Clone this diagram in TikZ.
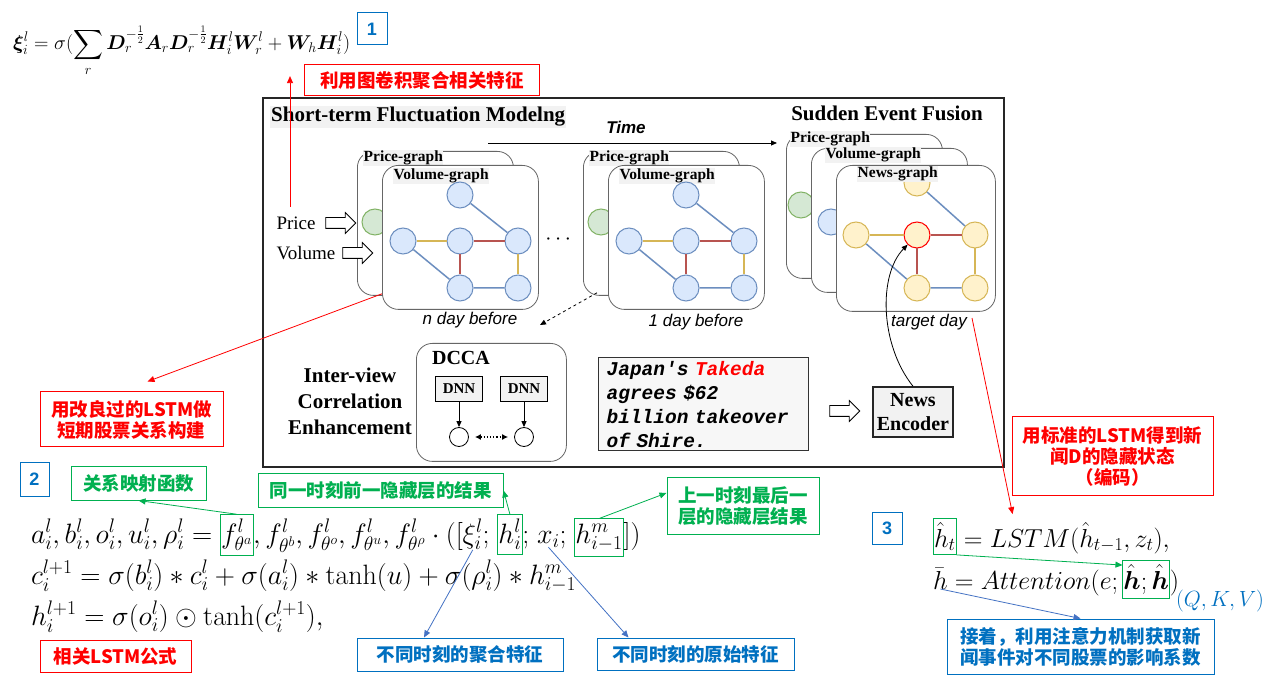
\RequirePackage{fix-cm}
\documentclass[tikz,border=0pt]{standalone}
\usepackage{amsmath,bm}
\usepackage[no-math]{fontspec}
\usetikzlibrary{arrows.meta,positioning,shapes.arrows}

\newfontfamily\timesfont{Liberation Serif}
\newfontfamily\arialfont{Liberation Sans}
\newfontfamily\courfont{Liberation Mono}[Ligatures=TeXOff]
\newfontfamily\cjk{Noto Sans CJK SC}

\definecolor{annred}{HTML}{FF0000}
\definecolor{anngreen}{HTML}{00B050}
\definecolor{annblue}{HTML}{0070C0}
\definecolor{arrowblue}{HTML}{4472C4}
\definecolor{nodeblue}{HTML}{DAE8FC}
\definecolor{edgeblue}{HTML}{6C8EBF}
\definecolor{nodegreen}{HTML}{D5E8D4}
\definecolor{edgegreen}{HTML}{82B366}
\definecolor{nodeyellow}{HTML}{FFF2CC}
\definecolor{edgeyellow}{HTML}{D6B656}
\definecolor{edgered}{HTML}{B85450}
\definecolor{labelgray}{HTML}{F2F2F2}

\begin{document}
\begin{tikzpicture}[x=1pt,y=-1pt,
    >={Triangle[length=7pt,width=6pt]},
    panel/.style={draw=black!60,fill=white,rounded corners=16pt,line width=0.8pt,anchor=north west,minimum width=156pt,minimum height=144pt,inner sep=0},
    gtag/.style={fill=labelgray,inner sep=0.5pt,anchor=west,font=\timesfont\bfseries\fontsize{15.5}{17}\selectfont},
    vnode/.style={circle,line width=1pt,minimum size=26pt,inner sep=0},
    bnode/.style={vnode,draw=edgeblue,fill=nodeblue},
    ynode/.style={vnode,draw=edgeyellow,fill=nodeyellow},
    gnode/.style={vnode,draw=edgegreen,fill=nodegreen},
    bedge/.style={draw=edgeblue,line width=1.5pt},
    yedge/.style={draw=edgeyellow,line width=1.5pt},
    redge/.style={draw=edgered,line width=1.5pt},
    daytext/.style={font=\arialfont\itshape\fontsize{17}{20}\selectfont},
    headtext/.style={font=\timesfont\bfseries\fontsize{21}{26}\selectfont,inner sep=1pt},
    inarrow/.style={single arrow,draw,fill=white,line width=0.8pt,minimum height=30pt,single arrow head extend=5pt,inner sep=0},
    eq/.style={inner sep=0pt,outer sep=0pt,anchor=base west,font=\fontsize{28}{33}\selectfont},
    eqbox/.style={eq,draw=anngreen,line width=1pt,inner xsep=1pt,inner ysep=5pt},
    note/.style={draw,line width=1pt,align=center,inner sep=0,font=\cjk\bfseries\fontsize{18.5}{21}\selectfont},
    rednote/.style={note,draw=annred,text=annred},
    greennote/.style={note,draw=anngreen,text=anngreen},
    bluenote/.style={note,draw=annblue,text=annblue},
    numbox/.style={draw=annblue,text=annblue,line width=1pt,minimum width=30pt,minimum height=32pt,font=\arialfont\bfseries\fontsize{18}{20}\selectfont},
    redarr/.style={->,draw=annred,line width=0.8pt},
    greenarr/.style={->,draw=anngreen,line width=0.8pt},
    bluearr/.style={->,draw=arrowblue,line width=0.8pt}]

  \fill[white] (0,0) rectangle (1275,684);
  \useasboundingbox (0,0) rectangle (1275,684);

  % framework box
  \draw[line width=1.6pt,draw=black!85] (263,98) rectangle (1004,467);
  \node[headtext,fill=labelgray,anchor=west] (stitle) at (270,117) {Short-term Fluctuation Modelng};
  \node[headtext] (etitle) at (887,113) {Sudden Event Fusion};
  \node[font=\arialfont\bfseries\itshape\fontsize{17}{20}\selectfont] (time) at (626,127) {Time};
  \coordinate (tstart) at (488,143);
  \coordinate (tend) at (777,143);
  \draw[-{Triangle[length=6pt,width=5pt]},line width=0.8pt] (tstart) -- (tend);

  % graphs of the past days
  \foreach \g/\dx in {n/0,one/226}{
    \begin{scope}[xshift=\dx]
      \node[panel] (\g-price) at (357,151) {};
      \node[gnode] (\g-pg) at (375,222) {};
      \node[gtag] (\g-ptag) at (363,158) {Price-graph};
      \node[panel] (\g-vol) at (382,165) {};
      \node[gtag] (\g-vtag) at (393,176) {Volume-graph};
      \node[bnode] (\g-t) at (460,195) {};
      \node[bnode] (\g-l) at (403,241) {};
      \node[bnode] (\g-c) at (460,241) {};
      \node[bnode] (\g-r) at (518,241) {};
      \node[bnode] (\g-bc) at (460,288) {};
      \node[bnode] (\g-br) at (518,288) {};
      \draw[bedge] (\g-t) -- (\g-r) (\g-l) -- (\g-bc) (\g-bc) -- (\g-br);
      \draw[yedge] (\g-l) -- (\g-c) (\g-r) -- (\g-br);
      \draw[redge] (\g-c) -- (\g-r) (\g-c) -- (\g-bc);
    \end{scope}
  }
  \node[daytext] (nday) at (470,320) {n day before};
  \node[daytext] (oneday) at (696,322) {1 day before};
  \node (dots) at (560,240) {\fontsize{22}{22}\selectfont$\cdots$};

  \node[anchor=west,font=\timesfont\fontsize{19}{22}\selectfont] (price) at (273,223) {Price};
  \node[inarrow] (parr) at (338,223) {\rule{0pt}{10pt}};
  \node[anchor=west,font=\timesfont\fontsize{19}{22}\selectfont] (volume) at (273,253) {Volume};
  \node[inarrow] (varr) at (355,253) {\rule{0pt}{10pt}};

  % graphs of the target day
  \node[panel] (t-price) at (786,134) {};
  \node[gnode] (t-pg) at (801,205) {};
  \node[gtag] (t-ptag) at (790,139) {Price-graph};
  \node[panel] (t-vol) at (811,148) {};
  \node[bnode] (t-vg) at (831,222) {};
  \node[gtag] (t-vtag) at (825,155) {Volume-graph};
  \node[panel,minimum width=159pt,minimum height=146pt] (t-news) at (836,165) {};
  \node[ynode] (t-t) at (917,183) {};
  \node[gtag] (t-ntag) at (857,174) {News-graph};
  \node[ynode] (t-l) at (856,235) {};
  \node[ynode,draw=red] (t-c) at (917,235) {};
  \node[ynode] (t-r) at (975,235) {};
  \node[ynode] (t-bc) at (917,288) {};
  \node[ynode] (t-br) at (975,288) {};
  \draw[bedge] (t-t) -- (t-r) (t-l) -- (t-bc) (t-bc) -- (t-br);
  \draw[yedge] (t-l) -- (t-c) (t-r) -- (t-br);
  \draw[redge] (t-c) -- (t-r) (t-c) -- (t-bc);
  \node[daytext] (tday) at (929,322) {target day};

  \coordinate (dashend) at (540,325);
  \draw[-{Triangle[length=6pt,width=5pt]},dashed,line width=0.8pt] ([xshift=14pt,yshift=3pt]one-price.south west) -- (dashend);

  % correlation part
  \node[headtext,align=center] (ivtitle) at (350,401) {Inter-view\\Correlation\\Enhancement};
  \node[panel,minimum width=150pt,minimum height=118pt] (dcca) at (416,343) {};
  \node[headtext,font=\timesfont\bfseries\fontsize{20}{24}\selectfont] (dccatag) at (461,358) {DCCA};
  \node[draw,fill=labelgray,line width=1.2pt,minimum width=47pt,minimum height=25pt,font=\timesfont\bfseries\fontsize{15}{17}\selectfont] (dnn1) at (459,389) {DNN};
  \node[draw,fill=labelgray,line width=1.2pt,minimum width=47pt,minimum height=25pt,font=\timesfont\bfseries\fontsize{15}{17}\selectfont] (dnn2) at (524,389) {DNN};
  \node[circle,draw,line width=0.8pt,minimum size=19pt,inner sep=0] (v1) at (459,437) {};
  \node[circle,draw,line width=0.8pt,minimum size=19pt,inner sep=0] (v2) at (524,437) {};
  \draw[-{Triangle[length=6pt,width=5pt]},line width=1pt] (dnn1) -- (v1);
  \draw[-{Triangle[length=6pt,width=5pt]},line width=1pt] (dnn2) -- (v2);
  \draw[{Latex[length=6pt,width=6pt]}-{Latex[length=6pt,width=6pt]},dotted,line width=1.2pt,shorten <=6pt,shorten >=6pt] (v1) -- (v2);

  % news part
  \node[anchor=north west,draw=black!80,fill=labelgray!60,line width=1.2pt,minimum width=210pt,minimum height=93pt,text width=194pt,align=left,inner xsep=8pt,inner ysep=3pt,font=\courfont\bfseries\itshape\fontsize{19.5}{24}\selectfont] (news) at (598,357) {Japan's \textcolor{red}{Takeda}\\agrees \$62\\billion takeover\\of Shire.};
  \node[inarrow] (narr) at (842,411) {\rule{0pt}{10pt}};
  \node[draw=black!85,fill=labelgray,line width=1.5pt,minimum width=80pt,minimum height=50pt,inner sep=1pt,align=center,font=\timesfont\bfseries\fontsize{20}{24}\selectfont] (enc) at (913,412) {News\\Encoder};
  \draw[-{Triangle[length=6pt,width=5pt]},line width=0.8pt] (enc.north) .. controls (880,345) and (878,275) .. (t-c);

  % formula 1
  \node[eq,font=\fontsize{20}{24}\selectfont] (xi) at (13,50) {$\displaystyle \bm{\xi}^l_i=\sigma(\sum_r \bm{D}_r^{-\frac{1}{2}}\bm{A}_r\bm{D}_r^{-\frac{1}{2}}\bm{H}^l_i\bm{W}^l_r+\bm{W}_h\bm{H}^l_i)$};
  \node[numbox] (num1) at (372,29) {1};
  \node[rednote,minimum width=235pt,minimum height=31pt] (gcnnote) at (422,80) {利用图卷积聚合相关特征};
  \coordinate (gcnsrc) at (290,207);
  \draw[redarr] (gcnsrc) -- (gcnsrc |- xi.south);

  % formula 2
  \node[numbox,minimum width=29pt,minimum height=33pt] (num2) at (34.5,479.5) {2};
  \node[eq] (eqa) at (31,543) {$a^l_i,b^l_i,o^l_i,u^l_i,\rho^l_i={}$};
  \node[eqbox] (fa) at (eqa.base east) {$f^l_{\theta^a}$};
  \node[eq] (eqb) at (fa.base east) {$,f^l_{\theta^b},f^l_{\theta^o},f^l_{\theta^u},f^l_{\theta^\rho}\cdot([$};
  \node[eq] (xil) at (eqb.base east) {$\xi^l_i$};
  \node[eq] (sc1) at (xil.base east) {$;\;$};
  \node[eqbox] (hl) at (sc1.base east) {$h^l_i$};
  \node[eq] (sc2) at (hl.base east) {$;\;$};
  \node[eq] (xv) at (sc2.base east) {$x_i$};
  \node[eq] (sc3) at (xv.base east) {$;\;$};
  \node[eqbox] (hm) at (sc3.base east) {$h^m_{i-1}$};
  \node[eq] (eqc) at (hm.base east) {$])$};
  \node[eq] (eqd) at (31,584) {$c^{l+1}_i=\sigma(b^l_i)*c^l_i+\sigma(a^l_i)*\tanh(u)+\sigma(\rho^l_i)*h^m_{i-1}$};
  \node[eq] (eqe) at (31,625) {$h^{l+1}_i=\sigma(o^l_i)\odot\tanh(c^{l+1}_i),$};

  \node[rednote,minimum width=183pt,minimum height=55pt] (lstmnote) at (131.5,419.5) {用改良过的LSTM做\\短期股票关系构建};
  \node[rednote,minimum width=151pt,minimum height=32pt] (formnote) at (115.5,656) {相关LSTM公式};
  \node[greennote,minimum width=135pt,minimum height=33pt] (mapnote) at (138.5,483.5) {关系映射函数};
  \node[greennote,minimum width=245pt,minimum height=33pt] (prevnote) at (380.5,490.5) {同一时刻前一隐藏层的结果};
  \node[greennote,minimum width=152pt,minimum height=56pt] (lastnote) at (743,506) {上一时刻最后一\\层的隐藏层结果};
  \node[bluenote,minimum width=206pt,minimum height=33pt] (aggnote) at (460,654.5) {不同时刻的聚合特征};
  \node[bluenote,minimum width=197pt,minimum height=32pt] (rawnote) at (695.5,654) {不同时刻的原始特征};

  % formula 3
  \node[numbox] (num3) at (887,528) {3};
  \node[eqbox,font=\fontsize{26}{30}\selectfont,inner ysep=4pt] (ht) at (933,547) {$\hat h_t$};
  \node[eq,font=\fontsize{26}{30}\selectfont] (lstm) at (ht.base east) {${}=LSTM(\hat h_{t-1},z_t),$};
  \node[eq,font=\fontsize{26}{30}\selectfont] (hbar) at (933,589) {$\bar h$};
  \node[eq,font=\fontsize{26}{30}\selectfont] (att) at (hbar.base east) {${}=Attention(e;\,$};
  \node[eqbox,font=\fontsize{26}{30}\selectfont,inner ysep=4pt] (hh) at (att.base east) {$\hat{\bm h};\hat{\bm h}$};
  \node[eq,font=\fontsize{26}{30}\selectfont] (attend) at (hh.base east) {$)$};
  \node[eq,font=\fontsize{22}{25}\selectfont,text=annblue] (qkv) at (1176,606) {$(Q,K,V)$};
  \node[rednote,minimum width=201pt,minimum height=78pt] (encnote) at (1112.5,456) {用标准的LSTM得到新\\闻D的隐藏状态\\（编码）};
  \node[bluenote,minimum width=267pt,minimum height=55pt] (attnote) at (1080.5,646.5) {接着，利用注意力机制获取新\\闻事件对不同股票的影响系数};

  % annotation arrows
  \draw[redarr] ([yshift=16pt]n-vol.south west) -- ([xshift=16pt,yshift=10pt]lstmnote.north);
  \coordinate (tdred) at (972,318);
  \draw[redarr] (tdred) -- ([xshift=56pt,yshift=8pt]lstm.north west);
  \draw[greenarr] (fa.north) -- (mapnote.south);
  \draw[greenarr] (hl.north) -- (prevnote.east);
  \draw[greenarr] (hm.north) -- ([yshift=13pt]lastnote.west);
  \draw[bluearr] (xil.south) -- ([xshift=-36pt]aggnote.north);
  \draw[bluearr] (xv.south) -- ([xshift=-67pt]rawnote.north);
  \draw[greenarr] (ht.south east) -- ([yshift=14pt]hh.west);
  \draw[bluearr] (hbar.south) -- (attnote.north);
\end{tikzpicture}
\end{document}
